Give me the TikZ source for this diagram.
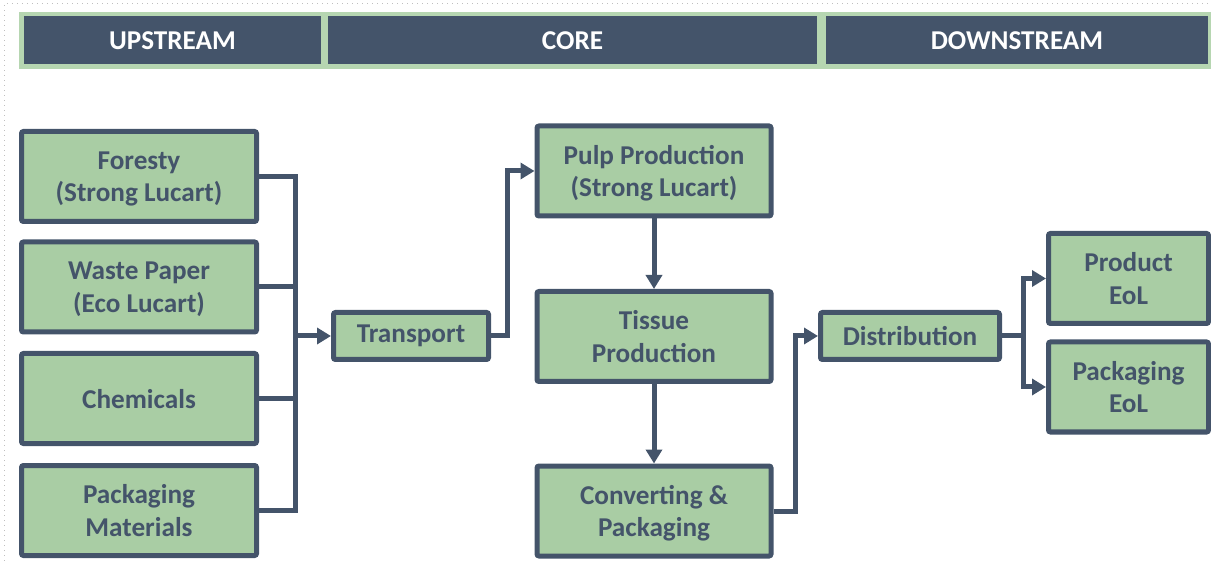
\documentclass[tikz,border=0pt]{standalone}
\usepackage{fontspec}
\setmainfont{Carlito}
\usetikzlibrary{arrows.meta}
\definecolor{slate}{HTML}{44546A}
\definecolor{leaf}{HTML}{A9CDA4}
\definecolor{bandgreen}{HTML}{B6D6B1}
\tikzset{
  stage/.style={draw=slate, fill=leaf, line width=2.5pt, rounded corners=1pt,
    inner sep=0pt, align=center, text=slate,
    font=\fontsize{13.6}{16.2}\selectfont\bfseries},
  tall/.style={minimum height=45pt, text depth=0pt},
  short/.style={minimum height=23.5pt},
  header/.style={fill=slate, inner sep=0pt, minimum height=24pt, text=white,
    font=\fontsize{13.6}{16}\selectfont\bfseries},
  conn/.style={draw=slate, line width=2.5pt, line join=miter},
  flow/.style={conn, -{Triangle[length=7pt,width=8pt]}}
}
\begin{document}
\begin{tikzpicture}[x=0.5pt,y=-0.5pt]
\useasboundingbox (0,0) rectangle (1211,561);
% page frame
\draw[black!25, dotted, line width=0.5pt] (4.5,561) -- (4.5,3.5) -- (1211,3.5);

% phase header band
\fill[bandgreen] (19,12) rectangle (1211,69);
\node[header, minimum width=148.5pt] (hup) at (172.5,40.5) {UPSTREAM};
\node[header, minimum width=244.5pt] (hcore) at (572.5,40.5) {CORE};
\node[header, minimum width=191pt] (hdown) at (1017,40.5) {DOWNSTREAM};

% upstream inputs
\node[stage, tall, minimum width=117.5pt] (forest) at (139,176.5) {Foresty\\(Strong Lucart)};
\node[stage, tall, minimum width=117.5pt] (waste) at (139,287) {Waste Paper\\(Eco Lucart)};
\node[stage, tall, minimum width=117.5pt] (chem) at (139,398.5) {Chemicals};
\node[stage, tall, minimum width=117.5pt] (packmat) at (139,510.5) {Packaging\\Materials};

% core chain
\node[stage, short, minimum width=77.5pt] (transport) at (411,336) {Transport};
\node[stage, tall, minimum width=117pt] (pulp) at (654,171) {Pulp Production\\(Strong Lucart)};
\node[stage, tall, minimum width=117pt] (tissue) at (654,336.5) {Tissue\\Production};
\node[stage, tall, minimum width=117pt] (convert) at (654,511) {Converting \&\\Packaging};

% downstream
\node[stage, short, minimum width=89.5pt] (distrib) at (910,336) {Distribution};
\node[stage, tall, minimum width=80pt] (prodeol) at (1128.5,278.5) {Product\\EoL};
\node[stage, tall, minimum width=80pt] (packeol) at (1128.5,387) {Packaging\\EoL};

% collector bus for the inputs
\coordinate (bus) at (295,176.5);
\coordinate (rise) at (507,336);
\coordinate (lift) at (795,511);
\coordinate (fork) at (1023,336);

\draw[conn] (forest.east) -| (bus |- packmat.east) -- (packmat.east);
\draw[conn] (waste.east) -- (bus |- waste.east);
\draw[conn] (chem.east) -- (bus |- chem.east);
\draw[flow] (bus |- transport.west) -- (transport.west);

\draw[flow] (transport.east) -- (rise) |- (pulp.west);
\draw[flow] (pulp.south) -- (tissue.north);
\draw[flow] (tissue.south) -- (convert.north);
\draw[flow] (convert.east) -- (lift) |- (distrib.west);

\draw[conn] (distrib.east) -- (fork);
\draw[flow] (fork) |- (prodeol.west);
\draw[flow] (fork) |- (packeol.west);
\end{tikzpicture}
\end{document}
